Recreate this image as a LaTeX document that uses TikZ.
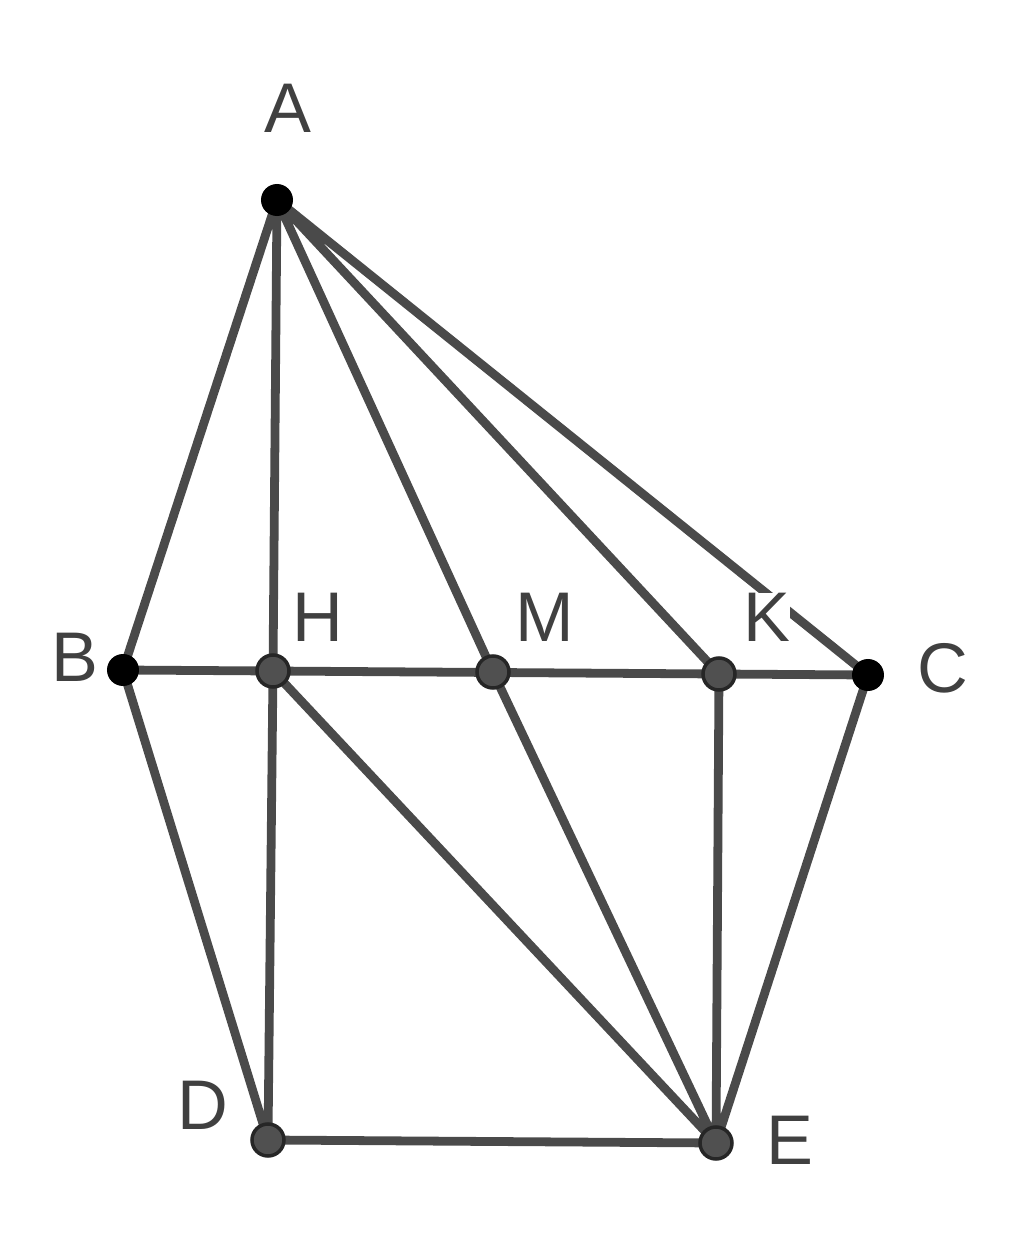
\documentclass[tikz,border=0pt]{standalone}
\usepackage{fontspec}
\setmainfont{Liberation Sans}
\usetikzlibrary{positioning}
\definecolor{seg}{HTML}{4A4A4A}
\definecolor{ptgray}{HTML}{505050}
\definecolor{lbl}{HTML}{404040}
\tikzset{
  seg/.style={draw=seg,line width=2.5pt,line cap=round},
  freept/.style={circle,fill=black,inner sep=0pt,minimum size=0.32cm},
  depept/.style={circle,fill=ptgray,draw=black!85,line width=1pt,inner sep=0pt,minimum size=0.32cm},
  lab/.style={text=lbl,font=\fontsize{20}{24}\selectfont,inner sep=1pt}
}
\begin{document}
\begin{tikzpicture}
\useasboundingbox (0,0) rectangle (10.24,12.6);
% points
\coordinate (A) at (2.77,10.60);
\coordinate (B) at (1.23,5.90);
\coordinate (H) at (2.73,5.89);
\coordinate (M) at (4.93,5.88);
\coordinate (K) at (7.19,5.86);
\coordinate (C) at (8.68,5.85);
\coordinate (D) at (2.68,1.20);
\coordinate (E) at (7.16,1.17);
% segments
\draw[seg] (A) -- (B) (A) -- (H) (A) -- (M) (A) -- (K) (A) -- (C);
\draw[seg] (B) -- (C) (B) -- (D) (H) -- (D) (D) -- (E);
\draw[seg] (H) -- (E) (M) -- (E) (K) -- (E) (C) -- (E);
% labels
\node[lab] (lA) at (2.88,11.52) {A};
\node[lab] (lB) at (0.75,6.03) {B};
\node[lab] (lH) at (3.18,6.43) {H};
\node[lab] (lM) at (5.45,6.43) {M};
\node[lab,fill=white,inner sep=0pt] (lK) at (7.67,6.43) {K};
\node[lab] (lC) at (9.43,5.92) {C};
\node[lab] (lD) at (2.03,1.55) {D};
\node[lab] (lE) at (7.90,1.20) {E};
% dots
\node[freept] (pA) at (A) {};
\node[freept] (pB) at (B) {};
\node[freept] (pC) at (C) {};
\node[depept] (pH) at (H) {};
\node[depept] (pM) at (M) {};
\node[depept] (pK) at (K) {};
\node[depept] (pD) at (D) {};
\node[depept] (pE) at (E) {};
\end{tikzpicture}
\end{document}
